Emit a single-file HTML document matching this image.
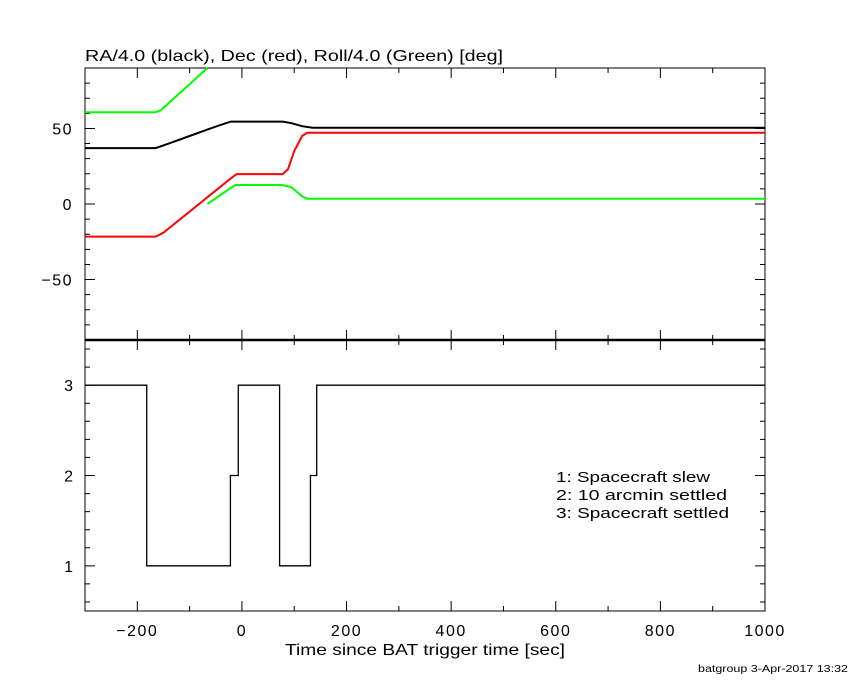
<!DOCTYPE html>
<html><head><meta charset="utf-8"><style>
body{margin:0;background:#fff}
svg{display:block;font-family:"Liberation Sans",sans-serif}
</style></head><body>
<svg id="c" width="850" height="680" viewBox="0 0 850 680">
<text x="85" y="61" font-size="16" textLength="418" lengthAdjust="spacingAndGlyphs" fill="#000">RA/4.0 (black), Dec (red), Roll/4.0 (Green) [deg]</text>
<text x="285" y="655" font-size="16" textLength="280" lengthAdjust="spacingAndGlyphs">Time since BAT trigger time [sec]</text>
<text x="698" y="672" font-size="10" textLength="150" lengthAdjust="spacingAndGlyphs">batgroup  3-Apr-2017 13:32</text>
<g font-size="15">
<text x="556" y="482" textLength="154" lengthAdjust="spacingAndGlyphs">1: Spacecraft slew</text>
<text x="556" y="500" textLength="171" lengthAdjust="spacingAndGlyphs">2: 10 arcmin settled</text>
<text x="556" y="518" textLength="173" lengthAdjust="spacingAndGlyphs">3: Spacecraft settled</text>
</g>
</svg>
<script>
const xTicks=[-200,0,200,400,600,800,1000];
const topYTicks=[-50,0,50];
const botYTicks=[1,2,3];
const raT=[-300,-165,-140,-100,-60,-35,-21,78,95,115,135,1000];
const raV=[37,37,40,45,50,53,54.5,54.5,53.5,51.5,50.5,50.5];
const decT=[-300,-165,-150,-21,-10,78,88,100,115,125,1000];
const decV=[-21.6,-21.6,-19,17,19.8,19.8,23,35,45,47.2,47.2];
const rollAT=[-300,-165,-155,-66];
const rollAV=[60.7,60.7,62,90];
const rollBT=[-66,-20,-12,78,95,115,125,1000];
const rollBV=[0,11,12.6,12.6,11,5,3.5,3.5];
const stepT=[-300,-182,-22,-7,72,131,143,1000];
const stepV=[3,1,2,3,1,2,3];
const L=85,R=765,T1=68,B1=340,B2=611;
const sx=t=>L+(t+300)*(R-L)/1300;
const sy1=v=>T1+(90-v)*(B1-T1)/180;
const sy2=v=>B1+(3.5-v)*(B2-B1)/3;
const svg=document.getElementById('c');
const NS='http://www.w3.org/2000/svg';
function mk(tag,attrs){const e=document.createElementNS(NS,tag);for(const k in attrs)e.setAttribute(k,attrs[k]);svg.appendChild(e);return e;}
let e;
e=mk('rect',{x:L,y:T1,width:R-L,height:B2-T1,fill:'none',stroke:'#000','stroke-width':1});


e=mk('line',{x1:L,x2:R,y1:B1,y2:B1,stroke:'#000','stroke-width':2.5});


let d='';
for(let t=-300;t<=1000;t+=100){const x=sx(t),m=(t%200===0)?10:5;
 d+=`M${x},${T1}v${m}M${x},${B1}v${-m}M${x},${B1}v${m}M${x},${B2}v${-m}`;}
for(let v=-80;v<=90;v+=10){const y=sy1(v),m=(v%50===0)?10:5;d+=`M${L},${y}h${m}M${R},${y}h${-m}`;}
for(let i=6;i<=34;i+=2){const v=i/10,y=sy2(v),m=(i%10===0)?10:5;d+=`M${L},${y}h${m}M${R},${y}h${-m}`;}
e=mk('path',{d:d,stroke:'#000','stroke-width':1,fill:'none'});


xTicks.forEach(t=>{const el=mk('text',{x:sx(t),y:636,'font-size':16,'text-anchor':'middle','letter-spacing':'1.5'});el.textContent=(t<0?'\u2212'+(-t):t);

});
topYTicks.forEach(v=>{const el=mk('text',{x:73,y:sy1(v)+6,'font-size':16,'text-anchor':'end','letter-spacing':'1.5'});el.textContent=(v<0?'\u2212'+(-v):v);

});
botYTicks.forEach(v=>{const el=mk('text',{x:73,y:sy2(v)+6,'font-size':16,'text-anchor':'end'});el.textContent=v;

});
function line(T,V,col,name){const p=T.map((t,i)=>sx(t).toFixed(1)+','+sy1(Math.min(V[i],90)).toFixed(1)).join(' ');
 const el=mk('polyline',{points:p,fill:'none',stroke:col,'stroke-width':2});
 
 }
line(raT,raV,'#000','ra-series');
line(decT,decV,'#f00','dec-series');
line(rollAT,rollAV,'#0f0','roll-series-a');
line(rollBT,rollBV,'#0f0','roll-series-b');
let sp='';
for(let i=0;i<stepV.length;i++){sp+=(i?'L':'M')+sx(stepT[i])+','+sy2(stepV[i])+'L'+sx(stepT[i+1])+','+sy2(stepV[i]);}
e=mk('path',{d:sp,fill:'none',stroke:'#000','stroke-width':1.3});


</script>
</body></html>
